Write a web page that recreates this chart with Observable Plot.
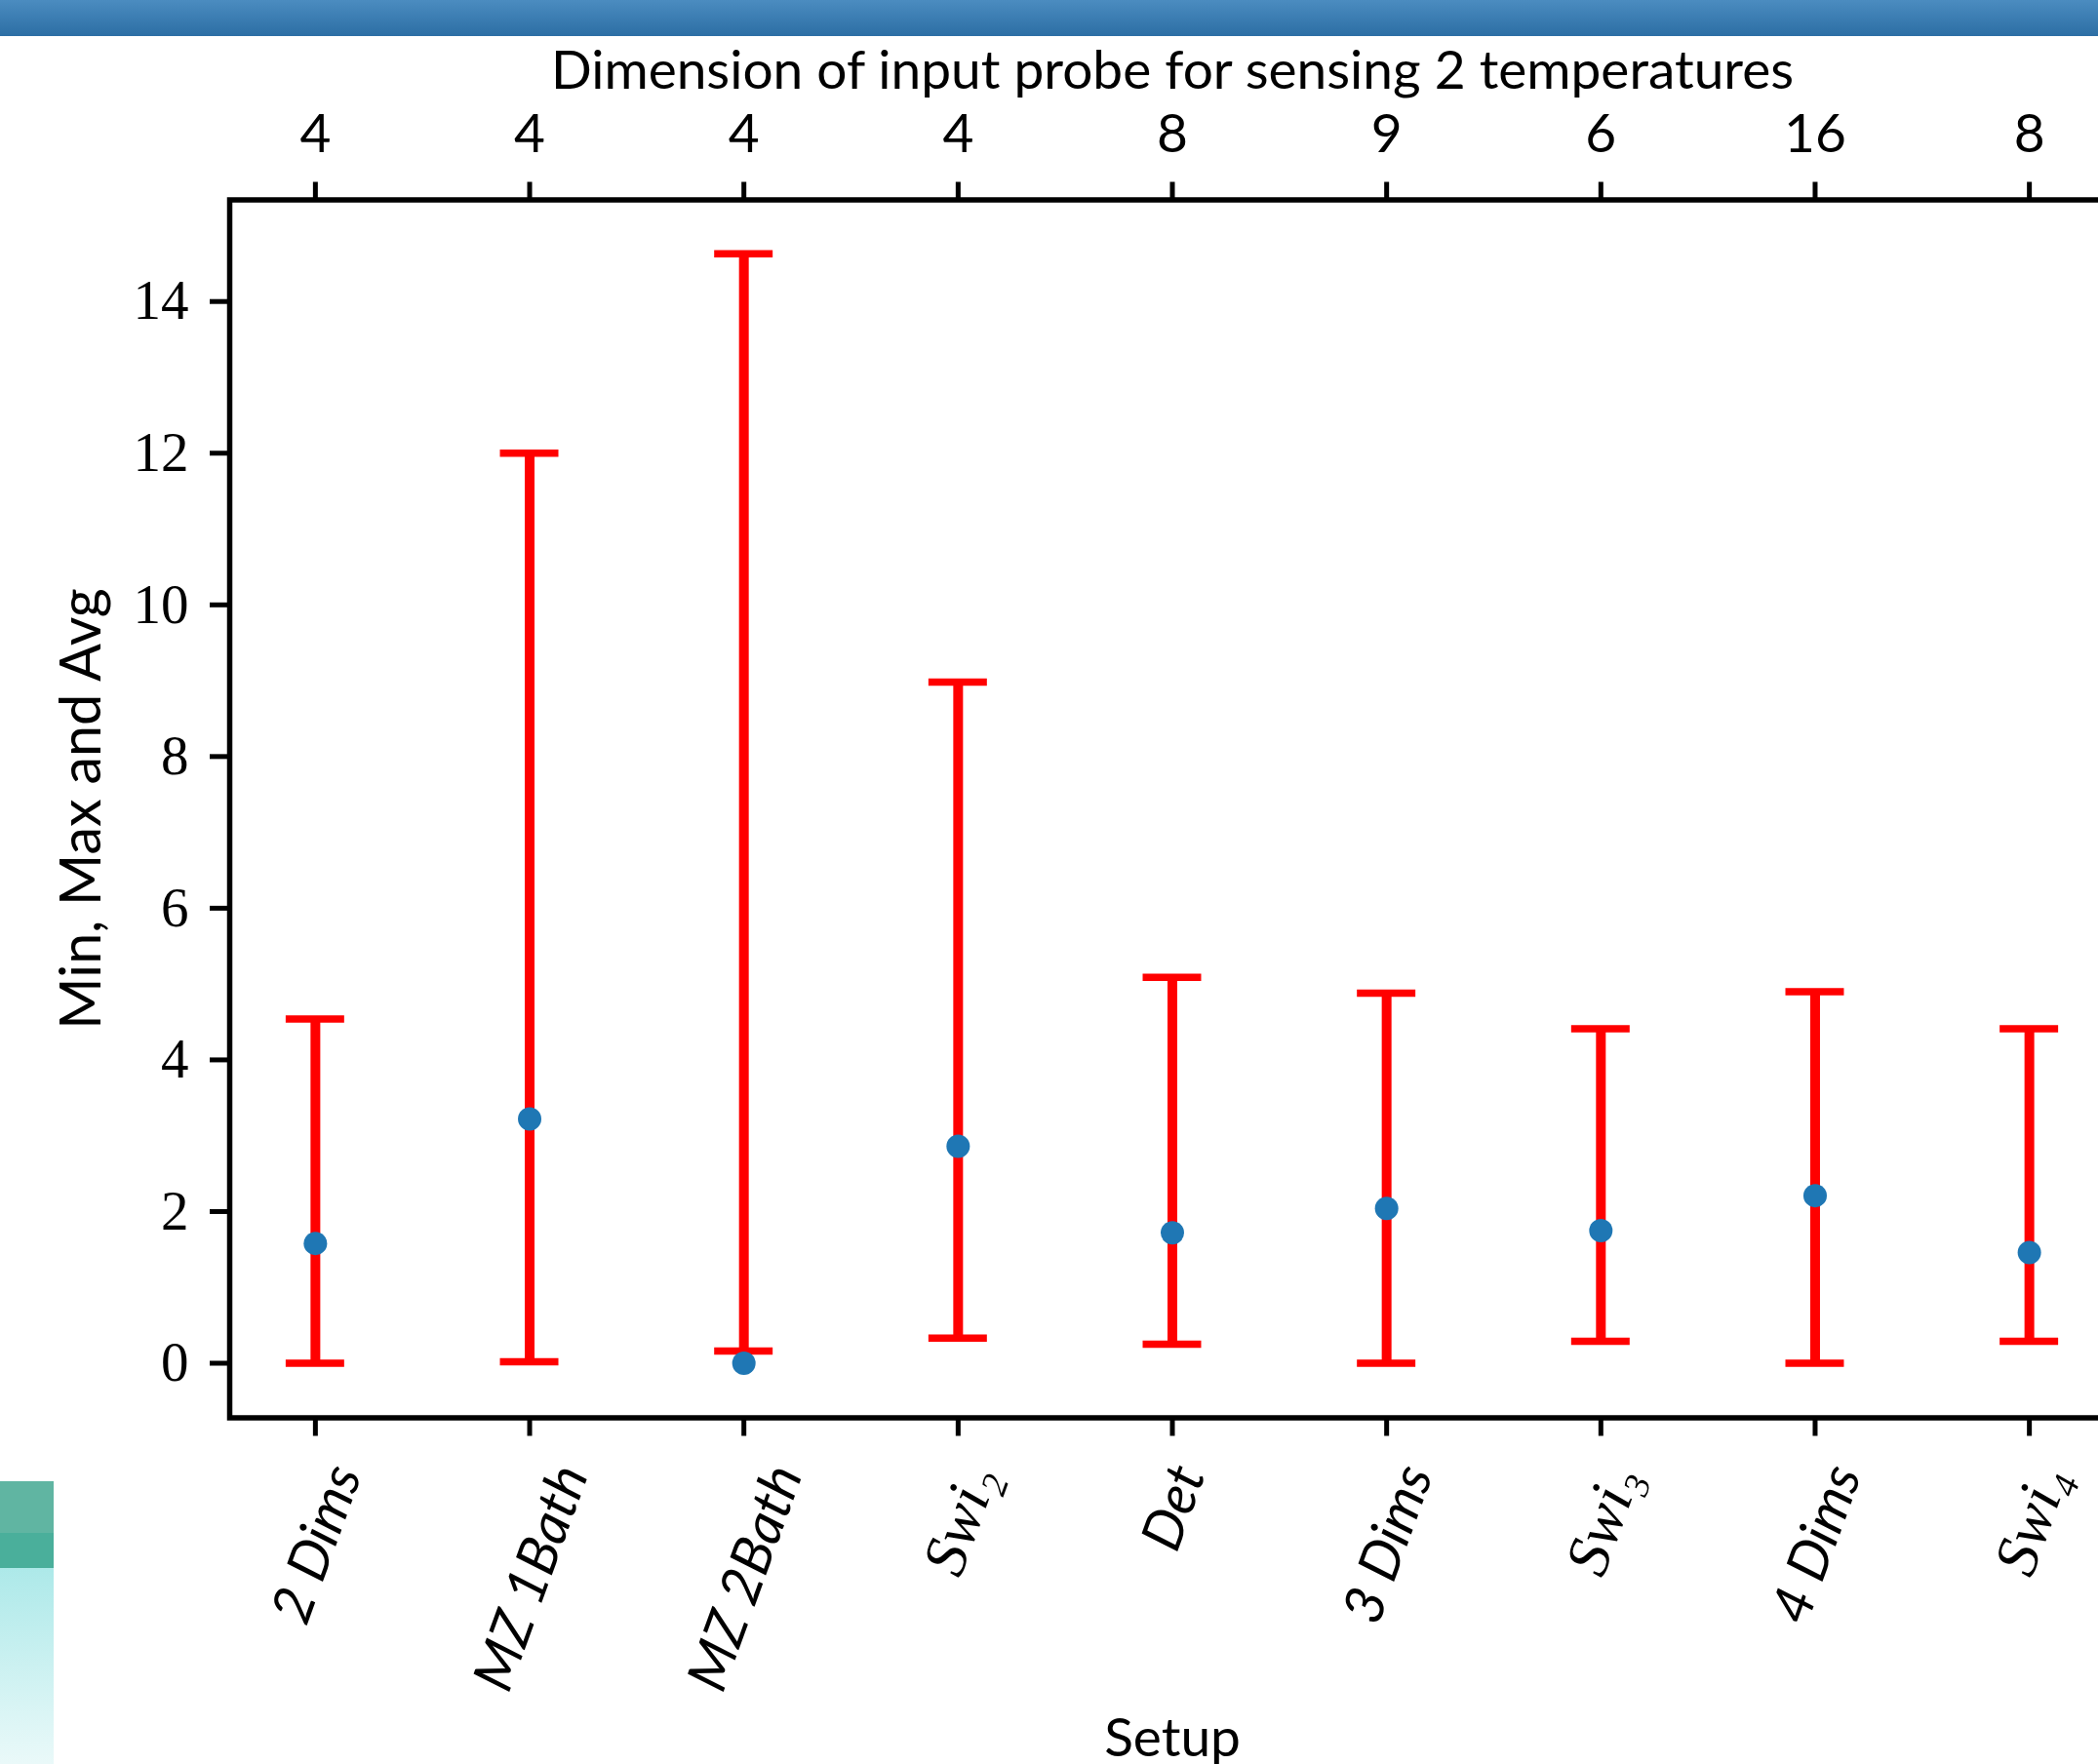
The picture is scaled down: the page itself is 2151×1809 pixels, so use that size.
<!DOCTYPE html>
<html><head><meta charset="utf-8">
<script src="https://cdn.jsdelivr.net/npm/d3@7"></script>
<script src="https://cdn.jsdelivr.net/npm/@observablehq/plot@0.6"></script>
<style>
html,body{margin:0;padding:0;background:#fff;overflow:hidden;width:2151px;height:1809px;}
#chart{position:absolute;left:0;top:0;}
#chart svg{max-width:none !important;}
#bar{position:absolute;left:0;top:0;width:2151px;height:37px;background:linear-gradient(#4b8cc0,#2c6ea4);z-index:2;}
#teal{position:absolute;left:0;top:1519px;width:55px;height:290px;background:linear-gradient(to bottom,#60b5a2 0,#60b5a2 53px,#4aaf9b 53px,#4aaf9b 89px,#ade9e9 89px,#eaf9f9 290px);z-index:2;}
</style></head><body>
<div id="bar"></div><div id="teal"></div><div id="chart"></div>
<script>
// ---- data ----
const setups = ["2 Dims", "MZ 1Bath", "MZ 2Bath", "Swi₂", "Det", "3 Dims", "Swi₃", "4 Dims", "Swi₄"];
const dims = [4, 4, 4, 4, 8, 9, 6, 16, 8];
const minVals = [0.00, 0.02, 0.16, 0.33, 0.25, 0.00, 0.29, 0.00, 0.29];
const maxVals = [4.54, 12.00, 14.63, 8.98, 5.09, 4.88, 4.41, 4.90, 4.41];
const avgVals = [1.58, 3.22, 0.00, 2.86, 1.72, 2.04, 1.75, 2.21, 1.46];
const yTicks = [0, 2, 4, 6, 8, 10, 12, 14];
const mathLabels = new Set(["Swi₂", "Swi₃", "Swi₄"]);
const titleTop = "Dimension of input probe for sensing 2 temperatures";
const titleX = "Setup";
const titleY = "Min, Max and Avg";

const data = setups.map((s, i) => ({setup: s, dim: dims[i], min: minVals[i], max: maxVals[i], avg: avgVals[i]}));
const dimBySetup = new Map(data.map(d => [d.setup, d.dim]));

// ---- layout ----
const W = 2200, H = 1809;
const mL = 235, mR = 32, mT = 204.5, mB = 355.5;
const frameBottom = H - mB;
const sansFont = "Lato, 'Open Sans', sans-serif";
const serifFont = "'Liberation Serif', 'DejaVu Serif', serif";
const fs = 55;
const fsLabel = 57;
const fsMath = 63;

const ctx = document.createElement("canvas").getContext("2d");
function labelFont(label) {
  return mathLabels.has(label) ? {size: fsMath, family: serifFont} : {size: fsLabel, family: sansFont};
}
function measure(label) {
  const f = labelFont(label);
  ctx.font = `italic ${f.size}px ${f.family}`;
  return ctx.measureText(label).width;
}
const cosA = Math.cos(70 * Math.PI / 180), sinA = Math.sin(70 * Math.PI / 180);
const labelTop = 1497;
const labelMarks = setups.map(s => {
  const f = labelFont(s);
  const L = measure(s), h = 0.72 * f.size;
  return Plot.text([s], {
    x: d => d, text: d => d, frameAnchor: "bottom",
    rotate: -70, textAnchor: "end", lineAnchor: "bottom",
    dx: (cosA * L + sinA * h) / 2, dy: labelTop + cosA * h - frameBottom,
    fontSize: f.size, fontStyle: "italic",
    fontFamily: f.family, fill: "black"
  });
});

const chart = Plot.plot({
  width: W, height: H,
  marginLeft: mL, marginRight: mR, marginTop: mT, marginBottom: mB,
  style: {maxWidth: "none", background: "white", fontFamily: sansFont, overflow: "visible"},
  x: {type: "band", domain: setups, paddingInner: 0.727, paddingOuter: 0.2635, align: 0.5, round: false},
  y: {domain: [-0.72, 15.34]},
  marks: [
    Plot.ruleX(data, {x: "setup", y1: "min", y2: "max", stroke: "#ff0000", strokeWidth: 10}),
    Plot.tickY(data, {x: "setup", y: "max", stroke: "#ff0000", strokeWidth: 7.5}),
    Plot.tickY(data, {x: "setup", y: "min", stroke: "#ff0000", strokeWidth: 7.5}),
    Plot.dot(data, {x: "setup", y: "avg", r: 12, fill: "#1f77b4", stroke: "none"}),
    Plot.frame({stroke: "black", strokeWidth: 5.5}),
    Plot.axisY({ticks: yTicks, tickSize: 20, tickPadding: 22, strokeWidth: 5, fontSize: 57, fontFamily: serifFont, label: null, tickFormat: d => String(d)}),
    Plot.axisX({anchor: "top", tickSize: 19, tickPadding: 30, strokeWidth: 5, fontSize: fs, fontFamily: sansFont, label: null, tickFormat: d => String(dimBySetup.get(d))}),
    Plot.axisX({anchor: "bottom", tickSize: 19, strokeWidth: 5, label: null, tickFormat: () => ""}),
    Plot.text([titleTop], {frameAnchor: "top", text: d => d, lineAnchor: "bottom", dy: 90 - mT, fontSize: fs, fontFamily: sansFont, fill: "black"}),
    Plot.text([titleX], {frameAnchor: "bottom", text: d => d, lineAnchor: "bottom", dy: 1800 - frameBottom, fontSize: fs, fontFamily: sansFont, fill: "black"}),
    Plot.text([titleY], {frameAnchor: "left", text: d => d, rotate: -90, textAnchor: "middle", lineAnchor: "bottom", dx: 102 - mL, fontSize: 57.5, fontFamily: sansFont, fill: "black"}),
    ...labelMarks
  ]
});
document.getElementById("chart").appendChild(chart);
</script>
</body></html>
